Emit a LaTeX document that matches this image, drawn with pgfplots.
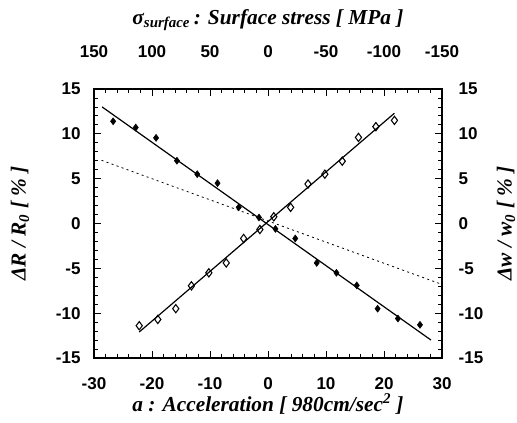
\documentclass[border=0pt]{standalone}
\usepackage{fontspec}
\setmainfont{Liberation Serif}
\setsansfont{Liberation Sans}
\usepackage{pgfplots}
\usepackage{pgfplotstable}
\pgfplotsset{compat=1.18}

% resistance change (filled) and width change (open) vs. acceleration
\pgfplotstableread{
a dR
-26.7 11.4
-22.8 10.7
-19.3 9.55
-15.7 7.0
-12.2 5.5
-8.7 4.5
-5.05 1.8
-1.55 0.67
1.28 -0.6
4.7 -1.67
8.4 -4.4
11.8 -5.5
15.3 -6.9
18.9 -9.5
22.4 -10.6
26.2 -11.3
}\resdata

\pgfplotstableread{
a dw
-22.2 -11.4
-19.0 -10.7
-15.9 -9.5
-13.2 -6.95
-10.2 -5.5
-7.2 -4.4
-4.2 -1.67
-1.4 -0.67
1.0 0.75
3.9 1.8
6.9 4.4
9.8 5.5
12.8 6.95
15.6 9.6
18.6 10.8
21.8 11.5
}\widthdata

\begin{document}
\begin{tikzpicture}
\pgfplotsset{
  common/.style={
    width=261pt, height=201.75pt, scale only axis,
    xmin=-30, xmax=30, ymin=-15, ymax=15,
    xtick={-30,-20,...,30}, ytick={-15,-10,...,15},
    minor x tick num=4, minor y tick num=4,
    tick align=inside,
    major tick length=5pt, minor tick length=3pt,
    axis line style={line width=1.2pt},
    tick style={line width=0.6pt, black},
    tick label style={font=\sffamily\bfseries\fontsize{12.8}{14}\selectfont},
    label style={font=\bfseries\itshape\fontsize{16}{18}\selectfont},
  }
}
\begin{axis}[common,
  xtick pos=left, ytick pos=left,
  xticklabels={-30,-20,-10,0,10,20,30},
  yticklabels={-15,-10,-5,0,5,10,15},
  xticklabel shift=11pt, yticklabel shift=6.5pt,
  xlabel={a : Acceleration [ 980cm/sec\textsuperscript{2} ]},
  xlabel style={at={(axis description cs:0.5,-0.172)}, anchor=center},
  ylabel={ΔR / R\textsubscript{0} [ \% ]},
  ylabel style={at={(axis description cs:-0.2126,0.5)}, anchor=center},
]
\addplot[black, line width=0.6pt, dash pattern=on 1.5pt off 2.5pt] coordinates {(-28.7,7.05) (29.6,-6.7)};
\addplot[black, line width=0.9pt] coordinates {(-28.6,13.0) (28.1,-13.0)};
\addplot[black, line width=0.9pt] coordinates {(-22.2,-12.1) (21.8,12.3)};
\addplot[only marks, mark=diamond*, mark size=2.6pt, black] table[x=a, y=dR] {\resdata};
\addplot[only marks, mark=diamond, mark size=3.1pt, black, mark options={fill=white, line width=0.8pt}] table[x=a, y=dw] {\widthdata};
\end{axis}
\begin{axis}[common,
  xtick pos=right, ytick pos=right,
  xticklabel pos=right, yticklabel pos=right,
  xticklabels={150,100,50,0,-50,-100,-150},
  yticklabels={-15,-10,-5,0,5,10,15},
  xticklabel shift=20pt, yticklabel shift=9pt,
  xlabel={σ\textsubscript{surface}\,: Surface stress [ MPa ]},
  xlabel style={at={(axis description cs:0.5,1.2565)}, anchor=center},
  ylabel={Δw / w\textsubscript{0} [ \% ]},
  ylabel style={at={(axis description cs:1.184,0.5)}, anchor=center},
]
\end{axis}
\pgfresetboundingbox
\path (-70.5pt,-48.75pt) rectangle (317.25pt,268.5pt);
\end{tikzpicture}
\end{document}
